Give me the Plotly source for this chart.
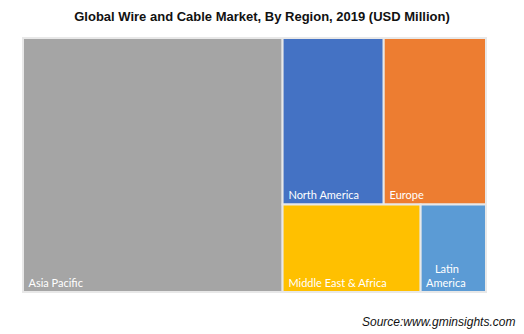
import plotly.graph_objects as go

regions = ["Asia Pacific", "North America", "Europe", "Middle East & Africa", "Latin America"]
display_labels = ["\u00a0Asia Pacific", "\u00a0North America", "\u00a0Europe", "\u00a0Middle East & Africa",
                  "\u00a0\u00a0\u00a0\u00a0Latin<br>\u00a0America"]
values = [102600, 26200, 26500, 18800, 8900]
colors = ["#A5A5A5", "#4472C4", "#ED7D31", "#FFC000", "#5B9BD5"]

W, H = 524, 334

fig = go.Figure(go.Treemap(
    ids=regions,
    labels=regions,
    parents=[""] * len(regions),
    values=values,
    text=display_labels,
    texttemplate="%{text}",
    textposition="bottom left",
    sort=False,
    marker=dict(colors=colors, line=dict(color="#E8E8E8", width=2),
                pad=dict(t=0, l=0, r=0, b=0)),
    tiling=dict(pad=0, squarifyratio=1),
    pathbar=dict(visible=False),
    textfont=dict(family="Lato, Noto Sans, sans-serif", size=11, color="white"),
    hoverinfo="label+value",
    domain=dict(x=[23 / W, 486 / W], y=[1 - 292 / H, 1 - 38 / H]),
))

fig.update_layout(
    width=W, height=H,
    margin=dict(l=0, r=0, t=0, b=0),
    paper_bgcolor="white",
    uniformtext=dict(minsize=11, mode="show"),
    title=dict(text="<b>Global Wire and Cable Market, By Region, 2019 (USD Million)</b>",
               x=0.5, xanchor="center", y=1 - 16 / H, yanchor="middle",
               font=dict(family="Arial, Liberation Sans, sans-serif", size=13, color="#111111")),
    annotations=[dict(text="<i>Source:www.gminsights.com</i>", xref="paper", yref="paper",
                      x=517 / W, y=1 - 322 / H, xanchor="right", yanchor="middle",
                      showarrow=False,
                      font=dict(family="Arial, Liberation Sans, sans-serif", size=12, color="#111111"))],
)

fig.write_html("out.html")
